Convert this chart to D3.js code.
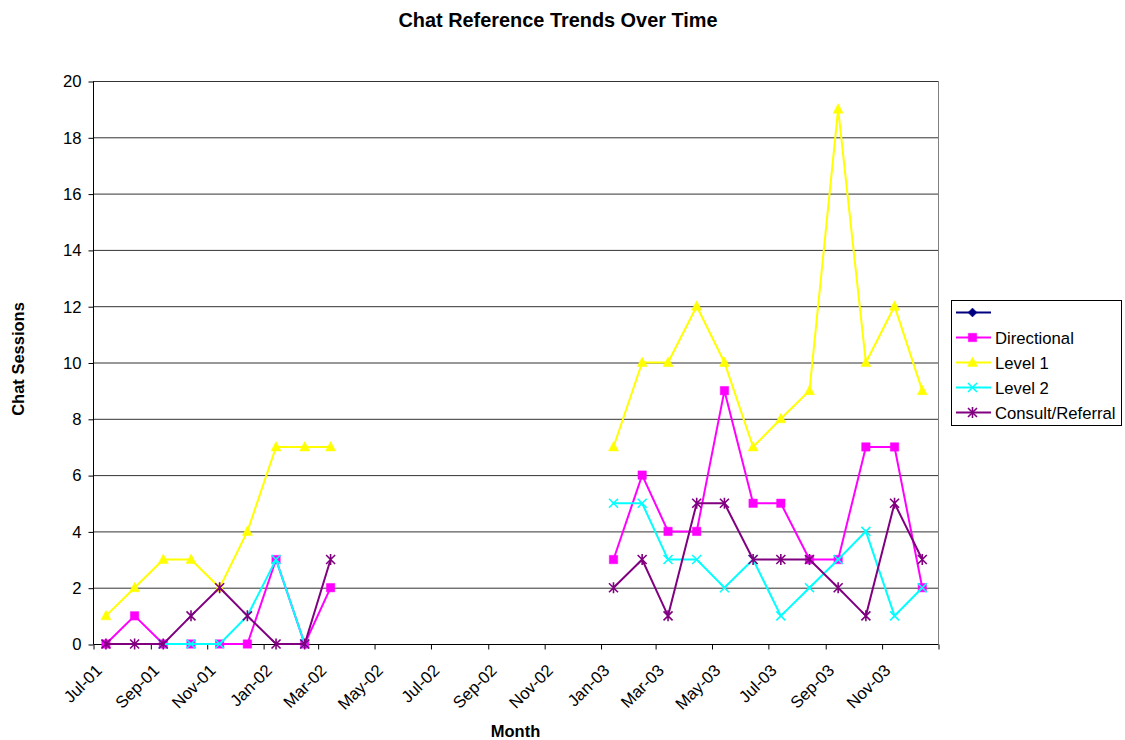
<!DOCTYPE html>
<html><head><meta charset="utf-8">
<script src="https://cdn.jsdelivr.net/npm/d3@7"></script>
<style>
body{margin:0;background:#fff;}
text{font-family:"Liberation Sans",Arial,sans-serif;}
</style></head>
<body>
<svg id="c" width="1125" height="740"></svg>
<script>
const dates = ["2001-07-15","2001-08-15","2001-09-15","2001-10-15","2001-11-15","2001-12-15",
"2002-01-15","2002-02-15","2002-03-15","2002-04-15","2002-05-15","2002-06-15",
"2002-07-15","2002-08-15","2002-09-15","2002-10-15","2002-11-15","2002-12-15",
"2003-01-15","2003-02-15","2003-03-15","2003-04-15","2003-05-15","2003-06-15",
"2003-07-15","2003-08-15","2003-09-15","2003-10-15","2003-11-15","2003-12-15"];
const blankSeries = dates.map(() => null);
const directional = [0,1,0,0,0,0,3,0,2, null,null,null,null,null,null,null,null,null, 3,6,4,4,9,5,5,3,3,7,7,2];
const level1      = [1,2,3,3,2,4,7,7,7, null,null,null,null,null,null,null,null,null, 7,10,10,12,10,7,8,9,19,10,12,9];
const level2      = [null,null,0,0,0,1,3,0,null, null,null,null,null,null,null,null,null,null, 5,5,3,3,2,3,1,2,3,4,1,2];
const consult     = [0,0,0,1,2,1,0,0,3, null,null,null,null,null,null,null,null,null, 2,3,1,5,5,3,3,3,2,1,5,3];
const yTicks = [0,2,4,6,8,10,12,14,16,18,20];
const axisStart = "2001-07-01", axisEnd = "2004-01-01";

const series = [
  {name:"", values: blankSeries, color:"#000080", marker:"diamond"},
  {name:"Directional", values: directional, color:"#FF00FF", marker:"square"},
  {name:"Level 1", values: level1, color:"#FFFF00", marker:"triangle"},
  {name:"Level 2", values: level2, color:"#00FFFF", marker:"x"},
  {name:"Consult/Referral", values: consult, color:"#800080", marker:"star"}
];

const FONT = "Liberation Sans, Arial, sans-serif";
const parse = d3.utcParse("%Y-%m-%d");
const L = 93, R = 938, T = 81, B = 644;
const svg = d3.select("#c");
const x = d3.scaleUtc().domain([parse(axisStart), parse(axisEnd)]).range([L, R]);
const y = d3.scaleLinear().domain([0, 20]).range([B, T]);

// gridlines
svg.append("g").selectAll("line").data(yTicks.filter(d => d > 0)).join("line")
  .attr("x1", L).attr("x2", R).attr("y1", d => y(d) + 0.5).attr("y2", d => y(d) + 0.5)
  .attr("stroke", "#333").attr("stroke-width", 1);
// right border
svg.append("line").attr("x1", R + 0.5).attr("x2", R + 0.5).attr("y1", T).attr("y2", B)
  .attr("stroke", "#808080");

// y axis
const yAxis = d3.axisLeft(y).tickValues(yTicks).tickSize(5).tickPadding(7);
const gy = svg.append("g").attr("transform", `translate(${L + 0.5},0.5)`).call(yAxis);
gy.select(".domain").attr("stroke", "#000").attr("d", `M0,${T}V${B}`);
gy.selectAll(".tick line").attr("stroke", "#000");
gy.selectAll(".tick text").attr("font-size", 16.7).attr("fill", "#000").attr("font-family", FONT);

// x axis
const xTickVals = d3.utcMonth.every(2).range(parse(axisStart), d3.utcDay.offset(parse(axisEnd), 1));
const fmt = d3.utcFormat("%b-%y");
const xAxis = d3.axisBottom(x).tickValues(xTickVals).tickSize(5)
  .tickFormat(d => +d === +parse(axisEnd) ? "" : fmt(d));
const gx = svg.append("g").attr("transform", `translate(0.5,${B + 0.5})`).call(xAxis);
gx.select(".domain").attr("stroke", "#000").attr("d", `M${L},0H${R}`);
gx.selectAll(".tick line").attr("stroke", "#000");
gx.selectAll(".tick text").attr("font-size", 16.7).attr("fill", "#000").attr("font-family", FONT)
  .attr("text-anchor", "end").attr("dy", null).attr("y", 0)
  .attr("transform", "translate(9,27) rotate(-45)");

// marker symbol paths
function markerPath(type) {
  switch (type) {
    case "diamond": return "M0,-4.5L4.5,0L0,4.5L-4.5,0Z";
    case "square": return "M-4.2,-4.2H4.2V4.2H-4.2Z";
    case "triangle": return "M0,-5.5L5,4H-5Z";
    case "x": return "M-4.5,-4.5L4.5,4.5M4.5,-4.5L-4.5,4.5";
    case "star": return "M-4.5,-4.5L4.5,4.5M4.5,-4.5L-4.5,4.5M0,-5.5V5.5";
  }
}
function drawMarker(g, s) {
  const filled = (s.marker === "diamond" || s.marker === "square" || s.marker === "triangle");
  g.append("path").attr("d", markerPath(s.marker))
    .attr("fill", filled ? s.color : "none")
    .attr("stroke", s.color).attr("stroke-width", filled ? 0.5 : 1.6);
}

const line = d3.line().defined(d => d.v != null).x(d => x(d.t)).y(d => y(d.v));
series.forEach(s => {
  const pts = s.values.map((v, i) => ({t: parse(dates[i]), v}));
  svg.append("path").datum(pts).attr("d", line)
    .attr("fill", "none").attr("stroke", s.color).attr("stroke-width", 2);
  const mg = svg.append("g");
  pts.filter(p => p.v != null).forEach(p => {
    const g = mg.append("g").attr("transform", `translate(${x(p.t)},${y(p.v)})`);
    drawMarker(g, s);
  });
});

// titles
svg.append("text").attr("x", 558).attr("y", 27).attr("text-anchor", "middle")
  .attr("font-size", 19.9).attr("font-weight", "bold").text("Chat Reference Trends Over Time");
svg.append("text").attr("x", (L + R) / 2).attr("y", 737).attr("text-anchor", "middle")
  .attr("font-size", 16.5).attr("font-weight", "bold").text("Month");
svg.append("text").attr("transform", `translate(24,${359}) rotate(-90)`).attr("text-anchor", "middle")
  .attr("font-size", 16.5).attr("font-weight", "bold").text("Chat Sessions");

// legend
const lg = svg.append("g");
lg.append("rect").attr("x", 951.5).attr("y", 300.5).attr("width", 170).attr("height", 125)
  .attr("fill", "#fff").attr("stroke", "#000");
series.forEach((s, i) => {
  const yy = 312.5 + i * 25;
  lg.append("line").attr("x1", 956).attr("x2", 991).attr("y1", yy).attr("y2", yy)
    .attr("stroke", s.color).attr("stroke-width", 2);
  const g = lg.append("g").attr("transform", `translate(972.5,${yy})`);
  drawMarker(g, s);
  lg.append("text").attr("x", 995).attr("y", yy + 6.5).attr("font-size", 16.7).text(s.name);
});
</script>
</body></html>
